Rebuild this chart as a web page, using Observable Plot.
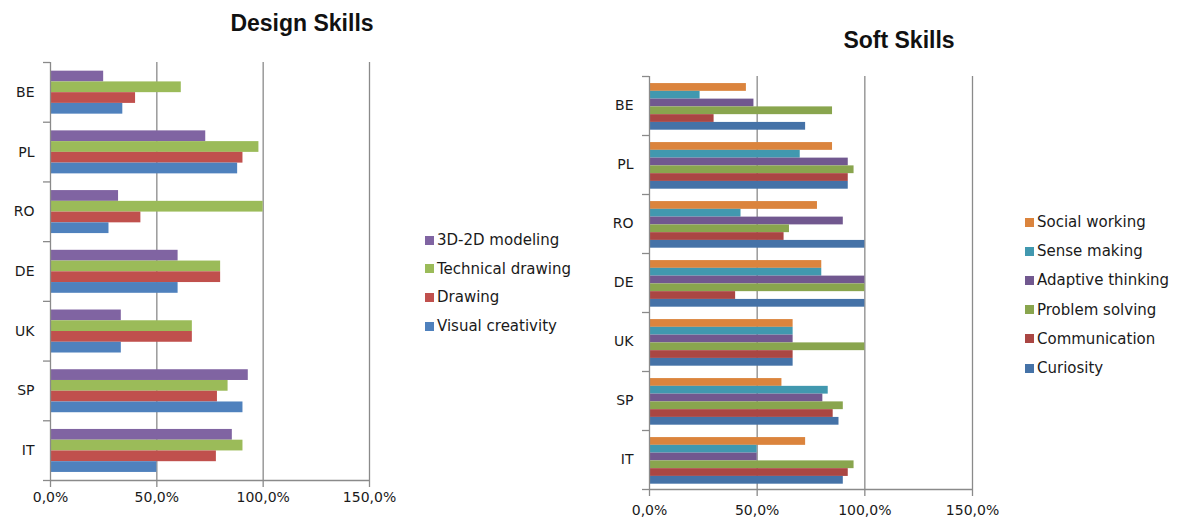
<!DOCTYPE html>
<html>
<head>
<meta charset="utf-8">
<script src="https://cdn.jsdelivr.net/npm/d3@7"></script>
<script src="https://cdn.jsdelivr.net/npm/@observablehq/plot@0.6"></script>
<style>
  html, body { margin: 0; padding: 0; background: #fff; }
  #root { position: relative; width: 1187px; height: 519px; overflow: hidden; font-family: "DejaVu Sans", sans-serif; }
  .panel { position: absolute; top: 0; }
  .title { position: absolute; font-family: "Liberation Sans", Arial, sans-serif; font-weight: bold; font-size: 23px; color: #111; white-space: nowrap; transform: translateX(-50%); }
  .legend { position: absolute; font-size: 15px; color: #1a1a1a; }
  .legend .item { display: flex; align-items: center; white-space: nowrap; }
  .legend .sw { width: 9px; height: 9px; margin-right: 3px; }
</style>
</head>
<body>
<div id="root"></div>
<script>
// ---- data ----
const countries = ["BE", "PL", "RO", "DE", "UK", "SP", "IT"];
const xTicks = [0, 50, 100, 150];

// Design Skills
const designSeries = ["3D-2D modeling", "Technical drawing", "Drawing", "Visual creativity"];
const modeling3d2d   = [25, 73, 32, 60, 33.3, 93, 85.5];
const technicalDraw  = [61.5, 98, 100, 80, 66.7, 83.5, 90.5];
const drawing        = [40, 90.5, 42.5, 80, 66.7, 78.5, 78];
const visualCreative = [34, 88, 27.5, 60, 33.3, 90.5, 50];
const designColors = ["#8064A2", "#9BBB59", "#C0504D", "#4F81BD"];

// Soft Skills
const softSeries = ["Social working", "Sense making", "Adaptive thinking", "Problem solving", "Communication", "Curiosity"];
const socialWorking    = [45, 85, 78, 80, 66.7, 61.5, 72.5];
const senseMaking      = [23.5, 70, 42.5, 80, 66.7, 83, 50];
const adaptiveThinking = [48.5, 92.3, 90, 100, 66.7, 80.5, 50];
const problemSolving   = [85, 95, 65, 100, 100, 90, 95];
const communication    = [30, 92.3, 62.5, 40, 66.7, 85.3, 92.3];
const curiosity        = [72.5, 92.3, 100, 100, 66.7, 88, 90];
const softColors = ["#DB843D", "#4198AF", "#71588F", "#89A54E", "#AA4643", "#4572A7"];

// ---- chart builder ----
const GRAY = "#8a8a8a";
const fmt = d => d.toFixed(1).replace(".", ",") + "%";

function barChart({series, values, colors, width, height, marginLeft, marginRight, marginTop, marginBottom, gapTop, gapBottom, tickPadding}) {
  const n = series.length;
  const h = (1 - gapTop - gapBottom) / n;
  const rows = countries.flatMap((c, i) => series.map((s, j) => ({
    country: c, series: s, value: values[j][i],
    y1: i + gapTop + j * h, y2: i + gapTop + (j + 1) * h
  })));
  return Plot.plot({
    width, height, marginLeft, marginRight, marginTop, marginBottom,
    style: {fontFamily: "DejaVu Sans, sans-serif", fontSize: "14px", color: "#1a1a1a", background: "transparent"},
    x: {domain: [0, 150], axis: null, label: null},
    y: {domain: [countries.length, 0], axis: null, label: null},
    color: {domain: series, range: colors},
    marks: [
      Plot.ruleX(xTicks.slice(1), {stroke: GRAY, strokeWidth: 1.3}),
      Plot.rectX(rows, {x1: 0, x2: "value", y1: "y1", y2: "y2", fill: "series"}),
      Plot.ruleX([0], {stroke: GRAY, strokeWidth: 1.3}),
      Plot.ruleY([countries.length], {stroke: GRAY, strokeWidth: 1.3}),
      Plot.axisY({ticks: d3.range(countries.length + 1), tickFormat: () => "", tickSize: 7, stroke: GRAY, strokeWidth: 1.3, label: null}),
      Plot.axisY({ticks: countries.map((c, i) => i + 0.5), tickFormat: d => countries[Math.floor(d)], tickSize: 0, tickPadding: 16, fill: "#1a1a1a", fontSize: 14, label: null}),
      Plot.axisX({ticks: xTicks, tickFormat: fmt, tickSize: 7, tickPadding, stroke: GRAY, strokeWidth: 1.3, fill: "#1a1a1a", fontSize: 14, label: null})
    ]
  });
}

function legend(series, colors, left, top, rowH) {
  const div = document.createElement("div");
  div.className = "legend";
  div.style.left = left + "px";
  div.style.top = top + "px";
  series.forEach((s, i) => {
    const it = document.createElement("div");
    it.className = "item";
    it.style.height = rowH + "px";
    const sw = document.createElement("span");
    sw.className = "sw";
    sw.style.background = colors[i];
    const t = document.createElement("span");
    t.textContent = s;
    it.appendChild(sw); it.appendChild(t);
    div.appendChild(it);
  });
  return div;
}

function title(text, cx, top) {
  const d = document.createElement("div");
  d.className = "title";
  d.textContent = text;
  d.style.left = cx + "px";
  d.style.top = top + "px";
  return d;
}

const root = document.getElementById("root");

// Left panel
const left = barChart({
  series: designSeries,
  values: [modeling3d2d, technicalDraw, drawing, visualCreative],
  colors: designColors,
  width: 400, height: 519, marginLeft: 50, marginRight: 31, marginTop: 62, marginBottom: 39,
  gapTop: 0.145, gapBottom: 0.135, tickPadding: 5
});
left.classList.add("panel");
left.style.left = "0px";
root.appendChild(left);

// Right panel
const right = barChart({
  series: softSeries,
  values: [socialWorking, senseMaking, adaptiveThinking, problemSolving, communication, curiosity],
  colors: softColors,
  width: 400, height: 519, marginLeft: 49, marginRight: 28, marginTop: 76, marginBottom: 30,
  gapTop: 0.12, gapBottom: 0.09, tickPadding: 9
});
right.classList.add("panel");
right.style.left = "600px";
root.appendChild(right);

root.appendChild(title("Design Skills", 302, 10));
root.appendChild(title("Soft Skills", 899, 27));
root.appendChild(legend(designSeries, designColors, 425, 226, 28.6));
root.appendChild(legend(softSeries, softColors, 1025, 207.5, 29.2));
</script>
</body>
</html>
